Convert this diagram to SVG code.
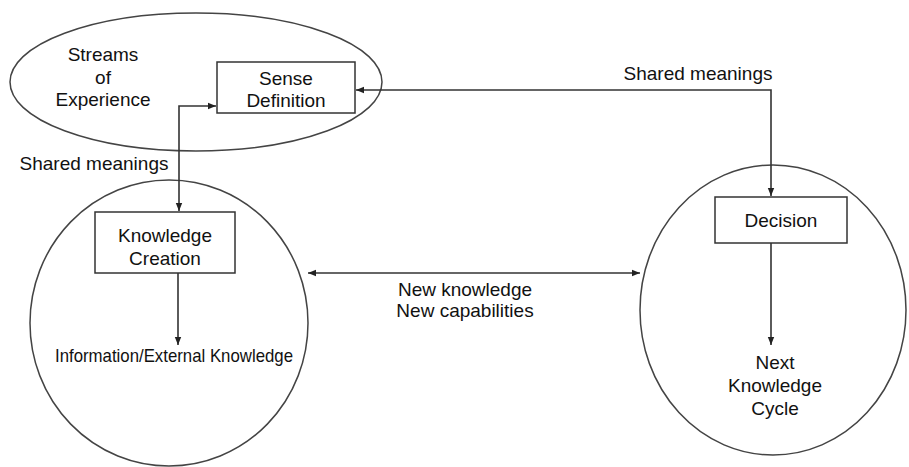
<svg xmlns="http://www.w3.org/2000/svg" width="909" height="467" viewBox="0 0 909 467">
<defs>
<marker id="ah" viewBox="0 0 10 10" refX="10" refY="5" markerWidth="8" markerHeight="8" markerUnits="userSpaceOnUse" orient="auto-start-reverse">
<path d="M0,1 L10,5 L0,9 Z" fill="#222"/>
</marker>
</defs>
<style>
.sh{fill:none;stroke:#444;stroke-width:1.5}
.bx{fill:#fff;stroke:#333;stroke-width:1.5}
.cn{fill:none;stroke:#333;stroke-width:1.6}
text{font-family:"Liberation Sans",Arial,sans-serif;font-size:19px;fill:#111;text-anchor:middle}
</style>
<rect width="909" height="467" fill="#fff"/>
<g id="streams">
<ellipse class="sh" cx="196" cy="82" rx="186" ry="69"/>
<text x="103" y="61">Streams</text>
<text x="103" y="84">of</text>
<text x="103" y="106">Experience</text>
</g>
<g id="left-circle">
<ellipse class="sh" cx="169" cy="323" rx="139" ry="143"/>
<text x="174" y="362" textLength="238" lengthAdjust="spacingAndGlyphs">Information/External Knowledge</text>
</g>
<g id="right-circle">
<ellipse class="sh" cx="773" cy="310" rx="133" ry="145"/>
<text x="775" y="369">Next</text>
<text x="775" y="392">Knowledge</text>
<text x="775" y="415">Cycle</text>
</g>
<g id="sense-definition">
<rect class="bx" x="217" y="62" width="138" height="51"/>
<text x="286" y="85">Sense</text>
<text x="286" y="107">Definition</text>
</g>
<g id="knowledge-creation">
<rect class="bx" x="95" y="212" width="140" height="61"/>
<text x="165" y="242">Knowledge</text>
<text x="165" y="265">Creation</text>
</g>
<g id="decision">
<rect class="bx" x="715" y="197" width="132" height="46"/>
<text x="781" y="227">Decision</text>
</g>
<g id="connectors">
<polyline class="cn" points="216,106 179,106 179,211" marker-start="url(#ah)" marker-end="url(#ah)"/>
<polyline class="cn" points="356,90 771,90 771,196" marker-start="url(#ah)" marker-end="url(#ah)"/>
<line class="cn" x1="178" y1="273" x2="178" y2="345" marker-end="url(#ah)"/>
<line class="cn" x1="771" y1="243" x2="771" y2="345" marker-end="url(#ah)"/>
<line class="cn" x1="308" y1="273" x2="640" y2="273" marker-start="url(#ah)" marker-end="url(#ah)"/>
<text x="94" y="170">Shared meanings</text>
<text x="698" y="80">Shared meanings</text>
<text x="465" y="296">New knowledge</text>
<text x="465" y="317">New capabilities</text>
</g>
</svg>
